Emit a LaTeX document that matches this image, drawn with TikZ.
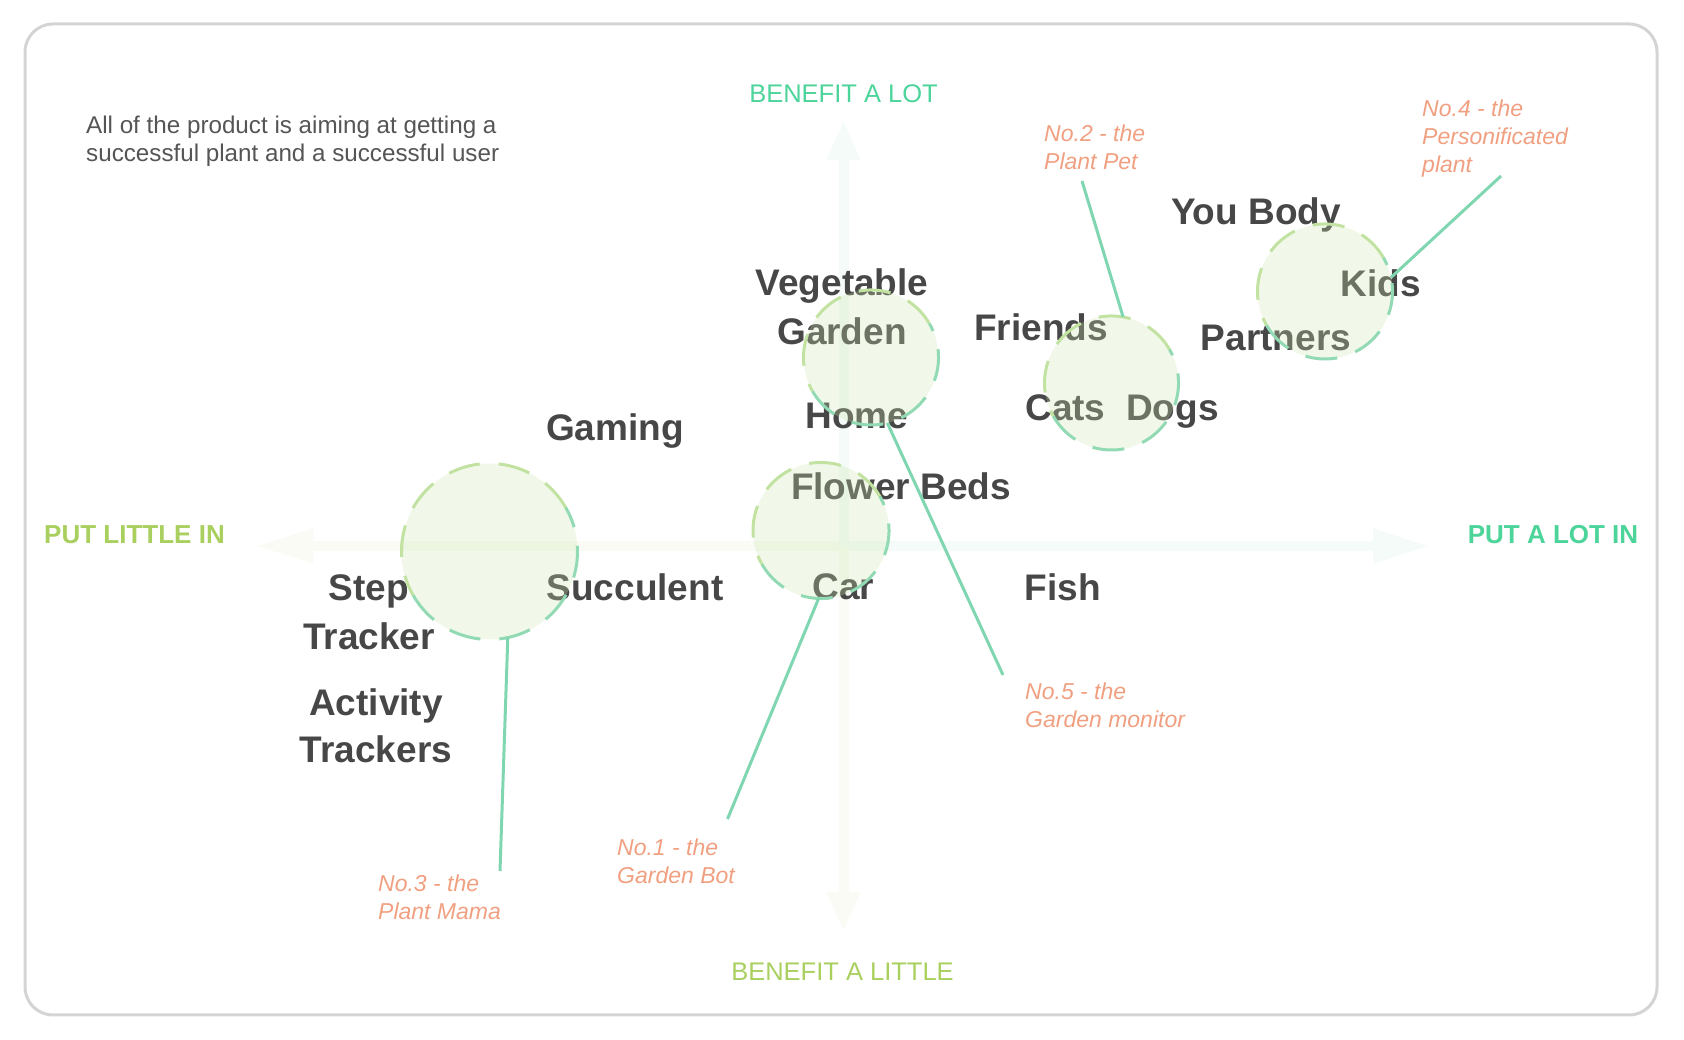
\documentclass[tikz,border=0pt]{standalone}
\usepackage{fontspec}
\setmainfont{Liberation Sans}
\usetikzlibrary{arrows.meta,positioning}

\definecolor{ink}{HTML}{474747}
\definecolor{note}{HTML}{555555}
\definecolor{salmon}{HTML}{F0A081}
\definecolor{mint}{HTML}{4CD49A}
\definecolor{lime}{HTML}{A9D05E}
\definecolor{stemcol}{HTML}{7FD6B1}
\definecolor{blobfill}{RGB}{204,230,175}
\definecolor{rimlime}{HTML}{C2E2A2}
\definecolor{rimmint}{HTML}{92DAB4}
\definecolor{framegray}{HTML}{D4D4D4}
\definecolor{axislime}{HTML}{F9FBF4}
\definecolor{axismint}{HTML}{F4FBF8}

\tikzset{
  item/.style={font=\fontsize{37}{40}\selectfont\bfseries, text=ink, anchor=base, inner sep=0},
  tag/.style={font=\fontsize{23}{28}\selectfont\itshape, text=salmon, align=left, anchor=north west, inner sep=0},
  axislabel/.style={font=\fontsize{25.5}{30}\selectfont, anchor=base, inner sep=0},
  axis/.style={line width=10pt},
  blob/.style={circle, fill=blobfill, fill opacity=0.28, inner sep=0, outer sep=0},
  rim/.style={line width=3pt, dash pattern=on 32pt off 19pt},
  stem/.style={stemcol, line width=3pt}
}

\begin{document}
\begin{tikzpicture}[x=1pt,y=1pt]
\useasboundingbox (0,0) rectangle (1684,1040);

%Frame
\draw[framegray, line width=3pt, rounded corners=28pt] (25,25) rectangle (1657,1016);

%Axes
\coordinate (mid) at (843.5,494);
\coordinate (leftend) at (256,494);
\coordinate (rightend) at (1430,494);
\coordinate (topend) at (843.5,920);
\coordinate (bottomend) at (843.5,108);
\draw[axis, axislime, -{Triangle[length=57pt,width=32pt]}] (mid) -- (leftend);
\draw[axis, axismint, -{Triangle[length=57pt,width=32pt]}] (mid) -- (rightend);
\draw[axis, axismint, -{Triangle[length=40pt,width=31pt]}] (mid) -- (topend);
\draw[axis, axislime, -{Triangle[length=40pt,width=31pt]}] (mid) -- (bottomend);

%Axis labels
\node[axislabel, text=mint] (benefitlot) at (843.5,937) {BENEFIT A LOT};
\node[axislabel, text=lime] (benefitlittle) at (842.5,59) {BENEFIT A LITTLE};
\node[axislabel, text=lime, font=\fontsize{26}{30}\selectfont\bfseries] (putlittle) at (134.5,496) {PUT LITTLE IN};
\node[axislabel, text=mint, font=\fontsize{26}{30}\selectfont\bfseries] (putlot) at (1553,496) {PUT A LOT IN};

%Note
\node[anchor=north west, align=left, font=\fontsize{24.2}{28}\selectfont, text=note, inner sep=0] (aim) at (86,924)
  {All of the product is aiming at getting a\\successful plant and a successful user};

%Things to look after
\node[item] (gaming) at (615,599) {Gaming};
\node[item] (vegetable) at (842,744) {Vegetable};
\node[item] (garden) at ([yshift=-49pt]vegetable.base) {Garden};
\node[item] (home) at (857,611) {Home};
\node[item] (friends) at (1041,699) {Friends};
\node[item] (catsdogs) at (1122,619) {Cats~~Dogs};
\node[item] (flowerbeds) at (901,540) {Flower Beds};
\node[item] (car) at (843.5,440) {Car};
\node[item] (succulent) at (635,439) {Succulent};
\node[item] (fish) at (1063,439) {Fish};
\node[item] (step) at (369,439) {Step};
\node[item] (tracker) at ([yshift=-49pt]step.base) {Tracker};
\node[item] (activity) at (376,324) {Activity};
\node[item] (trackers) at ([yshift=-47pt]activity.base) {Trackers};
\node[item] (youbody) at (1256,815) {You Body};
\node[item] (kids) at (1381,743) {Kids};
\node[item] (partners) at (1276,689) {Partners};

%Blobs
\node[blob, minimum size=176pt] (stepblob) at (489.5,488.5) {};
\node[blob, minimum size=135pt] (vegblob) at (871,682.5) {};
\node[blob, minimum size=134pt] (petblob) at (1111.5,657) {};
\node[blob, minimum size=135pt] (kidblob) at (1325,748.5) {};
\node[blob, minimum size=136pt] (carblob) at (821,509.5) {};

\draw[rim, rimlime] (stepblob.30) arc[start angle=30, end angle=210, radius=88];
\draw[rim, rimmint] (stepblob.210) arc[start angle=210, end angle=390, radius=88];
\draw[rim, rimlime] (vegblob.30) arc[start angle=30, end angle=210, radius=67.5];
\draw[rim, rimmint] (vegblob.210) arc[start angle=210, end angle=390, radius=67.5];
\draw[rim, rimlime] (petblob.30) arc[start angle=30, end angle=210, radius=67];
\draw[rim, rimmint] (petblob.210) arc[start angle=210, end angle=390, radius=67];
\draw[rim, rimlime] (kidblob.30) arc[start angle=30, end angle=210, radius=67.5];
\draw[rim, rimmint] (kidblob.210) arc[start angle=210, end angle=390, radius=67.5];
\draw[rim, rimlime] (carblob.30) arc[start angle=30, end angle=210, radius=68];
\draw[rim, rimmint] (carblob.210) arc[start angle=210, end angle=390, radius=68];

%Stems to the product names
\coordinate (mamaend) at (500,169);
\coordinate (botend) at (727.5,221);
\coordinate (monitorend) at (1003,365);
\coordinate (petend) at (1082,859);
\coordinate (personend) at (1501,864);
\draw[stem] (stepblob.-78) -- (mamaend);
\draw[stem] (carblob.-92) -- (botend);
\draw[stem] (vegblob.-76) -- (monitorend);
\draw[stem] (petblob.80) -- (petend);
\draw[stem] (kidblob.12.5) -- (personend);

%Products
\node[tag] (mama) at (378,165) {No.3 - the\\Plant Mama};
\node[tag] (bot) at (617,201) {No.1 - the\\Garden Bot};
\node[tag] (monitor) at (1025,357) {No.5 - the\\Garden monitor};
\node[tag] (pet) at (1044,915) {No.2 - the\\Plant Pet};
\node[tag] (person) at (1422,940) {No.4 - the\\Personificated\\plant};
\end{tikzpicture}
\end{document}
